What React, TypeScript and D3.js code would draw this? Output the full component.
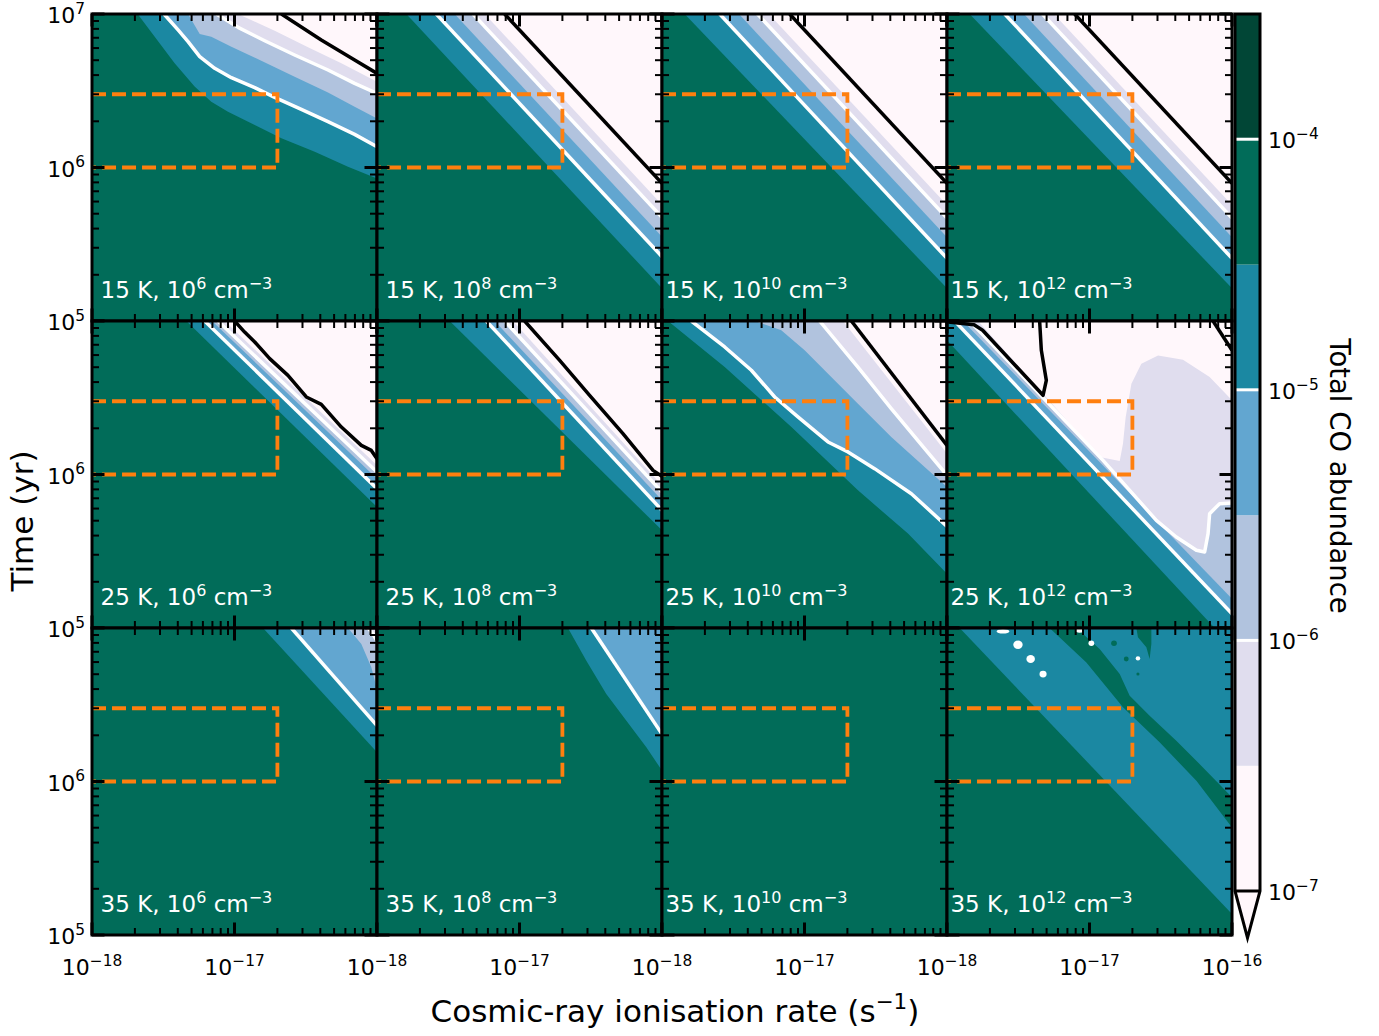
import React from 'react';
import * as d3 from 'd3';

type Pt = [number, number]; // [log10 ionisation rate, log10 time]

// ---------- colour levels ----------
const LEVELS = [1e-7, 3.16e-7, 1e-6, 3.16e-6, 1e-5, 3.16e-5, 1e-4, 3.16e-4];
const BAND_COLORS = ['#fff7fb', '#e0ddee', '#b1c3de', '#62a6d0', '#1b88a2', '#016c59', '#014636'];
const UNDER_COLOR = '#fff7fb';
const LINE_LEVELS = [1e-7, 1e-6, 1e-5, 1e-4];
const CBAR_TICKS = [1e-4, 1e-5, 1e-6, 1e-7];
const CBAR_TICK_EXP = ['−4', '−5', '−6', '−7'];

const TEMPS = ['15 K', '25 K', '35 K'];
const DENS_EXP = ['6', '8', '10', '12'];
const X_DOMAIN = [1e-18, 1e-16];
const Y_DOMAIN = [1e5, 1e7];
const X_TICK_VALUES = [1e-18, 1e-17, 1e-16];
const X_TICK_EXP = ['−18', '−17', '−16'];
const Y_TICK_VALUES = [1e5, 1e6, 1e7];
const Y_TICK_EXP = ['5', '6', '7'];
const BOX_ZETA = [1e-18, 2e-17];
const BOX_TIME = [1e6, 3e6];

// ---------- contour boundaries (log10 zeta, log10 t) ----------
// 15 K, 1e6
const t15n6_b3e5: Pt[] = [[-17.68, 7], [-17.56, 6.852], [-17.42, 6.679], [-17.28, 6.527], [-17.163, 6.429], [-17.046, 6.364], [-16.858, 6.277], [-16.671, 6.19], [-16.437, 6.103], [-16.204, 6.005], [-16, 5.929]];
const t15n6_b1e5: Pt[] = [[-17.495, 7], [-17.396, 6.896], [-17.326, 6.82], [-17.244, 6.722], [-17.139, 6.646], [-17.022, 6.585], [-16.858, 6.52], [-16.718, 6.457], [-16.531, 6.379], [-16.344, 6.299], [-16.157, 6.216], [-16, 6.136]];
const t15n6_b3e6: Pt[] = [[-17.326, 7], [-17.244, 6.87], [-17.163, 6.852], [-17.022, 6.787], [-16.812, 6.696], [-16.578, 6.592], [-16.344, 6.488], [-16.157, 6.396], [-16, 6.32]];
const t15n6_b1e6: Pt[] = [[-17.127, 7], [-16.975, 6.913], [-16.788, 6.826], [-16.578, 6.733], [-16.344, 6.635], [-16.157, 6.548], [-16, 6.483]];
const t15n6_b3e7: Pt[] = [[-16.975, 7], [-16.718, 6.891], [-16.484, 6.783], [-16.25, 6.679], [-16, 6.559]];
const t15n6_b1e7: Pt[] = [[-16.671, 7], [-16.391, 6.831], [-16.157, 6.7], [-16, 6.613]];
// 15 K, 1e8
const t15n8_b3e5: Pt[] = [[-17.794, 7], [-16, 5.213]];
const t15n8_b1e5: Pt[] = [[-17.584, 7], [-16, 5.419]];
const t15n8_b3e6: Pt[] = [[-17.455, 7], [-16, 5.549]];
const t15n8_b1e6: Pt[] = [[-17.326, 7], [-16, 5.675]];
const t15n8_b3e7: Pt[] = [[-17.244, 7], [-16, 5.758]];
const t15n8_b1e7: Pt[] = [[-17.104, 7], [-16, 5.897]];
// 15 K, 1e10
const t15n10_b3e5: Pt[] = [[-17.841, 7], [-16, 5.213]];
const t15n10_b1e5: Pt[] = [[-17.595, 7], [-16, 5.408]];
const t15n10_b3e6: Pt[] = [[-17.46, 7], [-16, 5.545]];
const t15n10_b1e6: Pt[] = [[-17.33, 7], [-16, 5.67]];
const t15n10_b3e7: Pt[] = [[-17.25, 7], [-16, 5.755]];
const t15n10_b1e7: Pt[] = [[-17.104, 7], [-16, 5.897]];
// 15 K, 1e12
const t15n12_b3e5: Pt[] = [[-17.841, 7], [-16, 5.213]];
const t15n12_b1e5: Pt[] = [[-17.595, 7], [-16, 5.408]];
const t15n12_b3e6: Pt[] = [[-17.46, 7], [-16, 5.545]];
const t15n12_b1e6: Pt[] = [[-17.33, 7], [-16, 5.67]];
const t15n12_b3e7: Pt[] = [[-17.25, 7], [-16, 5.755]];
const t15n12_b1e7: Pt[] = [[-17.104, 7], [-16, 5.897]];
// 25 K, 1e6
const t25n6_b3e5: Pt[] = [[-17.338, 7], [-16, 5.788]];
const t25n6_b1e5: Pt[] = [[-17.209, 7], [-16, 5.908]];
const t25n6_b3e6: Pt[] = [[-17.158, 7], [-16, 5.973]];
const t25n6_b1e6: Pt[] = [[-17.116, 7], [-16, 6.016]];
const t25n6_b3e7: Pt[] = [[-17.069, 7], [-16, 6.06]];
const t25n6_b1e7: Pt[] = [[-16.999, 7], [-16.929, 6.928], [-16.858, 6.863], [-16.753, 6.755], [-16.625, 6.646], [-16.496, 6.505], [-16.391, 6.457], [-16.25, 6.309], [-16.11, 6.19], [-16.04, 6.157], [-16, 6.103]];
// 25 K, 1e8
const t25n8_b3e5: Pt[] = [[-17.49, 7], [-16, 5.636]];
const t25n8_b1e5: Pt[] = [[-17.233, 7], [-16, 5.767]];
const t25n8_b3e6: Pt[] = [[-17.174, 7], [-16, 5.832]];
const t25n8_b1e6: Pt[] = [[-17.104, 7], [-16, 5.886]];
const t25n8_b3e7: Pt[] = [[-17.046, 7], [-16, 5.929]];
const t25n8_b1e7: Pt[] = [[-16.964, 7], [-16.718, 6.744], [-16.508, 6.516], [-16.274, 6.266], [-16.063, 6.027], [-16, 5.988]];
// 25 K, 1e10
const t25n10_b3e5: Pt[] = [[-17.958, 7], [-17.56, 6.7], [-17.092, 6.309], [-16.625, 5.897], [-16.274, 5.615], [-16, 5.354]];
const t25n10_b1e5: Pt[] = [[-17.794, 7], [-17.56, 6.831], [-17.373, 6.679], [-17.209, 6.505], [-17.046, 6.375], [-16.835, 6.212], [-16.695, 6.147], [-16.508, 6.038], [-16.25, 5.875], [-16, 5.662]];
const t25n10_b3e6: Pt[] = [[-17.35, 7], [-17.163, 6.939], [-16.999, 6.809], [-16.812, 6.635], [-16.625, 6.461], [-16.391, 6.244], [-16.157, 6.049], [-16, 5.919]];
const t25n10_b1e6: Pt[] = [[-16.894, 7], [-16.625, 6.7], [-16.391, 6.429], [-16.157, 6.168], [-16, 5.995]];
const t25n10_b3e7: Pt[] = [[-16.73, 7], [-16, 6.136]];
const t25n10_b1e7: Pt[] = [[-16.671, 7], [-16, 6.19]];
// 25 K, 1e12
const t25n12_b3e5: Pt[] = [[-18, 6.874], [-16.122, 5]];
const t25n12_b1e5: Pt[] = [[-17.946, 7], [-16, 5.093]];
const t25n12_b3e6: Pt[] = [[-17.888, 7], [-16, 5.191]];
const t25n12_b1e6: Pt[] = [[-17.841, 7], [-16.905, 6.092], [-16.718, 5.897], [-16.531, 5.701], [-16.391, 5.593], [-16.25, 5.506], [-16.192, 5.495], [-16.168, 5.615], [-16.157, 5.745], [-16.087, 5.81], [-16, 5.814]];
const t25n12_pink: Pt[] = [[-17.782, 7], [-16.929, 6.114], [-16.788, 6.088], [-16.765, 6.201], [-16.746, 6.375], [-16.706, 6.592], [-16.636, 6.722], [-16.519, 6.776], [-16.344, 6.748], [-16.157, 6.635], [-16, 6.483], [-16, 7]];
const t25n12_b1e7a: Pt[] = [[-17.99, 6.993], [-17.81, 6.975], [-17.75, 6.94], [-17.326, 6.516], [-17.303, 6.613], [-17.338, 6.809], [-17.35, 7]];
const t25n12_b1e7b: Pt[] = [[-16.133, 7], [-16, 6.809]];
// 35 K, 1e6
const t35n6_b3e5: Pt[] = [[-16.8, 7], [-16, 6.19]];
const t35n6_b1e5: Pt[] = [[-16.601, 7], [-16, 6.364]];
const t35n6_b3e6: Pt[] = [[-16.204, 7], [-16.11, 6.896], [-16.04, 6.744], [-16, 6.603]];
const t35n6_b1e6: Pt[] = [[-16.063, 7], [-16.028, 6.961], [-16, 6.917]];
// 35 K, 1e8
const t35n8_b3e5: Pt[] = [[-16.66, 7], [-16.531, 6.787], [-16.391, 6.57], [-16.25, 6.396], [-16.11, 6.223], [-16, 6.071]];
const t35n8_b1e5: Pt[] = [[-16.496, 7], [-16, 6.309]];
// 35 K, 1e12
const t35n12_b3e5: Pt[] = [[-17.911, 7], [-16, 5.137]];
const t35n12_stripe: Pt[] = [[-17.28, 7], [-17.022, 6.776], [-16.765, 6.483], [-16.508, 6.255], [-16.25, 6.005], [-16, 5.701],
  [-16, 5.897], [-16.204, 6.092], [-16.391, 6.266], [-16.578, 6.429], [-16.718, 6.559], [-16.788, 6.7], [-16.929, 6.863], [-17.092, 7]];
const t35n12_tongue: Pt[] = [[-16.671, 7], [-16.66, 6.939], [-16.601, 6.874], [-16.578, 6.798], [-16.566, 6.896], [-16.566, 7]];
// [log zeta, log t, half-width (dex), half-height (dex)]
const t35n12_greenSpots: number[][] = [[-16.828, 6.9, 0.02, 0.018], [-16.742, 6.798, 0.017, 0.016], [-16.66, 6.7, 0.011, 0.01]];
const t35n12_whiteSpots: number[][] = [[-17.607, 6.978, 0.045, 0.014], [-17.502, 6.891, 0.033, 0.027], [-17.413, 6.798, 0.03, 0.026], [-17.326, 6.7, 0.025, 0.022], [-17.069, 6.983, 0.03, 0.014], [-16.987, 6.9, 0.02, 0.018], [-16.66, 6.802, 0.016, 0.014]];

type Layer =
  | { kind: 'b'; lev: number; pts: Pt[] }
  | { kind: 'line'; lev: number; pts: Pt[] }
  | { kind: 'poly'; band: number; pts: Pt[] }
  | { kind: 'spots'; color: string; spots: number[][] };

const b = (lev: number, pts: Pt[]): Layer => ({ kind: 'b', lev, pts });
const ln = (lev: number, pts: Pt[]): Layer => ({ kind: 'line', lev, pts });
const poly = (band: number, pts: Pt[]): Layer => ({ kind: 'poly', band, pts });

const PANELS: Layer[][] = [
  [b(3.16e-5, t15n6_b3e5), b(1e-5, t15n6_b1e5), b(3.16e-6, t15n6_b3e6), b(1e-6, t15n6_b1e6), b(3.16e-7, t15n6_b3e7), b(1e-7, t15n6_b1e7)],
  [b(3.16e-5, t15n8_b3e5), b(1e-5, t15n8_b1e5), b(3.16e-6, t15n8_b3e6), b(1e-6, t15n8_b1e6), b(3.16e-7, t15n8_b3e7), b(1e-7, t15n8_b1e7)],
  [b(3.16e-5, t15n10_b3e5), b(1e-5, t15n10_b1e5), b(3.16e-6, t15n10_b3e6), b(1e-6, t15n10_b1e6), b(3.16e-7, t15n10_b3e7), b(1e-7, t15n10_b1e7)],
  [b(3.16e-5, t15n12_b3e5), b(1e-5, t15n12_b1e5), b(3.16e-6, t15n12_b3e6), b(1e-6, t15n12_b1e6), b(3.16e-7, t15n12_b3e7), b(1e-7, t15n12_b1e7)],
  [b(3.16e-5, t25n6_b3e5), b(1e-5, t25n6_b1e5), b(3.16e-6, t25n6_b3e6), b(1e-6, t25n6_b1e6), b(3.16e-7, t25n6_b3e7), b(1e-7, t25n6_b1e7)],
  [b(3.16e-5, t25n8_b3e5), b(1e-5, t25n8_b1e5), b(3.16e-6, t25n8_b3e6), b(1e-6, t25n8_b1e6), b(3.16e-7, t25n8_b3e7), b(1e-7, t25n8_b1e7)],
  [b(3.16e-5, t25n10_b3e5), b(1e-5, t25n10_b1e5), b(3.16e-6, t25n10_b3e6), b(1e-6, t25n10_b1e6), b(3.16e-7, t25n10_b3e7), b(1e-7, t25n10_b1e7)],
  [b(3.16e-5, t25n12_b3e5), b(1e-5, t25n12_b1e5), b(3.16e-6, t25n12_b3e6), b(1e-6, t25n12_b1e6), poly(0, t25n12_pink), ln(1e-7, t25n12_b1e7a), b(1e-7, t25n12_b1e7b)],
  [b(3.16e-5, t35n6_b3e5), b(1e-5, t35n6_b1e5), b(3.16e-6, t35n6_b3e6), b(1e-6, t35n6_b1e6)],
  [b(3.16e-5, t35n8_b3e5), b(1e-5, t35n8_b1e5)],
  [],
  [b(3.16e-5, t35n12_b3e5), poly(5, t35n12_stripe), poly(5, t35n12_tongue), { kind: 'spots', color: BAND_COLORS[5], spots: t35n12_greenSpots }, { kind: 'spots', color: '#ffffff', spots: t35n12_whiteSpots }],
];

// ---------- layout ----------
const W = 1379, H = 1036;
const PL = 92, PT = 14, PW = 285, PH = 307;
const FONT = 'DejaVu Sans, sans-serif';

function bandColorAbove(lev: number): string {
  const k = LEVELS.findIndex(l => Math.abs(l - lev) / lev < 1e-3);
  return k <= 0 ? UNDER_COLOR : BAND_COLORS[k - 1];
}
const isLineLevel = (lev: number) => LINE_LEVELS.some(l => Math.abs(l - lev) / lev < 1e-3);
const lineColor = (lev: number) => (Math.abs(lev - 1e-7) / 1e-7 < 1e-3 ? '#000000' : '#ffffff');

function closeBoundary(pts: Pt[]): Pt[] {
  const out: Pt[] = pts.slice();
  const first = pts[0], last = pts[pts.length - 1];
  if (last[1] <= 5.0001) out.push([-15.9, 4.9]);
  out.push([-15.9, 7.1]);
  if (first[0] <= -17.9999) out.push([-18.1, 7.1]);
  return out;
}

function Sup({ base, exp, x, y, size, anchor, fill }: { base: string; exp: string; x: number; y: number; size: number; anchor: string; fill?: string }) {
  return (
    <text x={x} y={y} fontSize={size} textAnchor={anchor} fill={fill || '#000'} fontFamily={FONT}>
      {base}
      <tspan dy={-size * 0.42} fontSize={size * 0.7}>{exp}</tspan>
    </text>
  );
}

function Panel({ row, col, layers }: { row: number; col: number; layers: Layer[] }) {
  const x0 = PL + col * PW, y0 = PT + row * PH;
  const x = d3.scaleLog().domain(X_DOMAIN).range([x0, x0 + PW]);
  const y = d3.scaleLog().domain(Y_DOMAIN).range([y0 + PH, y0]);
  const line = d3.line<Pt>().x(p => x(Math.pow(10, p[0]))).y(p => y(Math.pow(10, p[1])));
  const clipId = `clip-${row}-${col}`;
  const xt = x.ticks();
  const yt = y.ticks();
  const isMajor = (v: number) => Math.abs(Math.log10(v) - Math.round(Math.log10(v))) < 1e-6;
  const MAJ = 12.5, MIN = 7;
  const ann = `${TEMPS[row]}, 10`;
  const boxPath = `M${x(BOX_ZETA[0])},${y(BOX_TIME[1])}H${x(BOX_ZETA[1])}V${y(BOX_TIME[0])}H${x(BOX_ZETA[0])}`;
  return (
    <g>
      <clipPath id={clipId}><rect x={x0} y={y0} width={PW} height={PH} /></clipPath>
      <g clipPath={`url(#${clipId})`}>
        <rect x={x0} y={y0} width={PW} height={PH} fill={BAND_COLORS[5]} />
        {layers.map((L, i) => {
          if (L.kind === 'b') return <path key={i} d={line(closeBoundary(L.pts)) + 'Z'} fill={bandColorAbove(L.lev)} />;
          if (L.kind === 'poly') return <path key={i} d={line(L.pts) + 'Z'} fill={BAND_COLORS[L.band]} />;
          if (L.kind === 'line') return null;
          return (
            <g key={i}>
              {L.spots.map((s, j) => {
                const cx = x(Math.pow(10, s[0])), cy = y(Math.pow(10, s[1]));
                const rx = x(Math.pow(10, s[0] + s[2])) - cx;
                const ry = cy - y(Math.pow(10, s[1] + s[3]));
                return <ellipse key={j} cx={cx} cy={cy} rx={rx} ry={ry} fill={L.color} />;
              })}
            </g>
          );
        })}
        {layers.map((L, i) =>
          (L.kind === 'b' || L.kind === 'line') && isLineLevel(L.lev) ? (
            <path key={'l' + i} d={line(L.pts) || ''} fill="none" stroke={lineColor(L.lev)} strokeWidth={3.5} strokeLinejoin="round" />
          ) : null
        )}
        <path d={boxPath} fill="none" stroke="#ff7f0e" strokeWidth={3.8} strokeDasharray="14 6" />
      </g>
      <text x={x(4.6e-18)} y={y0 + PH - 23} fontSize={23} textAnchor="middle" fill="#ffffff" fontFamily={FONT}>
        {ann}
        <tspan dy={-9.5} fontSize={16}>{DENS_EXP[col]}</tspan>
        <tspan dy={9.5}>{' cm'}</tspan>
        <tspan dy={-9.5} fontSize={16}>{'−3'}</tspan>
      </text>
      <g stroke="#000">
        {xt.map((t, i) => {
          const L = isMajor(t) ? MAJ : MIN;
          const sw = isMajor(t) ? 3 : 2;
          const xx = x(t);
          return (
            <g key={'x' + i} strokeWidth={sw}>
              <line x1={xx} x2={xx} y1={y0 + PH} y2={y0 + PH - L} />
              <line x1={xx} x2={xx} y1={y0} y2={y0 + L} />
            </g>
          );
        })}
        {yt.map((t, i) => {
          const L = isMajor(t) ? MAJ : MIN;
          const sw = isMajor(t) ? 3 : 2;
          const yy = y(t);
          return (
            <g key={'y' + i} strokeWidth={sw}>
              <line x1={x0} x2={x0 + L} y1={yy} y2={yy} />
              <line x1={x0 + PW} x2={x0 + PW - L} y1={yy} y2={yy} />
            </g>
          );
        })}
      </g>
      <rect x={x0} y={y0} width={PW} height={PH} fill="none" stroke="#000" strokeWidth={3} />
      {row === 2 && X_TICK_VALUES.map((t, i) =>
        i < 2 || col === 3 ? <Sup key={'xl' + i} base="10" exp={X_TICK_EXP[i]} x={x(t)} y={975} size={22} anchor="middle" /> : null
      )}
      {col === 0 && Y_TICK_VALUES.map((t, i) =>
        i < 2 || row === 0 ? <Sup key={'yl' + i} base="10" exp={Y_TICK_EXP[i]} x={85} y={y(t) + 9} size={22} anchor="end" /> : null
      )}
    </g>
  );
}

function Colorbar() {
  const CX = 1235, CW = 25;
  const cy = d3.scaleLog().domain([1e-7, 3.16e-4]).range([891, 14]);
  const yBot = cy(1e-7), yTop = cy(3.16e-4);
  const tip = yBot + 47;
  return (
    <g>
      {BAND_COLORS.map((c, k) => (
        <rect key={k} x={CX} y={cy(LEVELS[k + 1])} width={CW} height={cy(LEVELS[k]) - cy(LEVELS[k + 1])} fill={c} />
      ))}
      <path d={`M${CX},${yBot}L${CX + CW},${yBot}L${CX + CW / 2},${tip}Z`} fill={UNDER_COLOR} />
      {LINE_LEVELS.map((l, i) => (
        <line key={i} x1={CX} x2={CX + CW} y1={cy(l)} y2={cy(l)} stroke={lineColor(l)} strokeWidth={3} />
      ))}
      <path d={`M${CX},${yTop}H${CX + CW}V${yBot}L${CX + CW / 2},${tip}L${CX},${yBot}Z`} fill="none" stroke="#000" strokeWidth={3} strokeLinejoin="miter" />
      {CBAR_TICKS.map((t, i) => (
        <Sup key={i} base="10" exp={CBAR_TICK_EXP[i]} x={1268} y={cy(t) + 9} size={22} anchor="start" />
      ))}
      <text transform={`translate(1330,476) rotate(90)`} fontSize={27.5} textAnchor="middle" fontFamily={FONT}>Total CO abundance</text>
    </g>
  );
}

export default function App() {
  return (
    <svg width={W} height={H} style={{ position: 'absolute', left: 0, top: 0, display: 'block' }} fontFamily={FONT}>
      <rect width={W} height={H} fill="#ffffff" />
      {PANELS.map((layers, i) => (
        <Panel key={i} row={Math.floor(i / 4)} col={i % 4} layers={layers} />
      ))}
      <Colorbar />
      <text transform="translate(33,521) rotate(-90)" fontSize={31} textAnchor="middle" fontFamily={FONT}>Time (yr)</text>
      <text x={675} y={1022} fontSize={31} textAnchor="middle" fontFamily={FONT}>
        Cosmic-ray ionisation rate (s
        <tspan dy={-13} fontSize={21.5}>−1</tspan>
        <tspan dy={13}>)</tspan>
      </text>
    </svg>
  );
}
